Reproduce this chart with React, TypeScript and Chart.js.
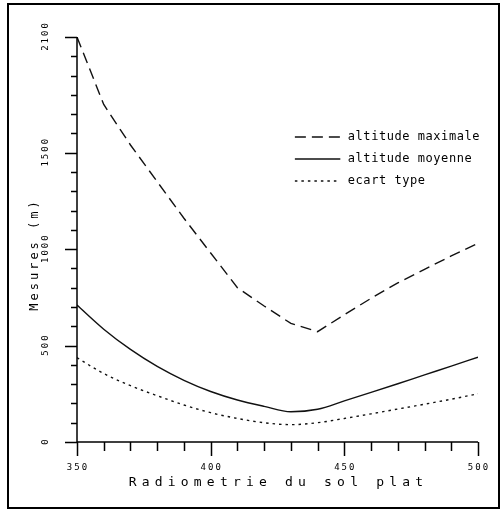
import React, { useEffect, useRef } from "react";
import { Chart, registerables } from "chart.js";

Chart.register(...registerables);

// ---- data ----
const xValues = [350, 360, 370, 380, 390, 400, 410, 420, 430, 440, 450, 460, 470, 480, 490, 500];
const altitudeMaximale = [2100, 1750, 1540, 1350, 1160, 980, 800, 705, 615, 572, 660, 745, 825, 895, 965, 1030];
const altitudeMoyenne = [710, 585, 480, 392, 320, 262, 218, 185, 157, 170, 213, 257, 302, 348, 393, 440];
const ecartType = [437, 355, 292, 240, 192, 152, 122, 100, 90, 100, 122, 146, 171, 196, 222, 250];
const seriesLabels = ["altitude maximale", "altitude moyenne", "ecart type"];

const xTickValues = [350, 360, 370, 380, 390, 400, 410, 420, 430, 440, 450, 460, 470, 480, 490, 500];
const xMajorTicks = [350, 400, 450, 500];
const yTickValues = [0, 100, 200, 300, 400, 500, 600, 700, 800, 900, 1000, 1100, 1200, 1300, 1400, 1500, 1600, 1700, 1800, 1900, 2000, 2100];
const yMajorTicks = [0, 500, 1000, 1500, 2100];
const xTitle = "Radiometrie du sol plat";
const yTitle = "Mesures (m)";

const INK = "#000";

const retroPlugin = {
  id: "retroAxes",
  afterDatasetsDraw(chart: any) {
    const ctx: CanvasRenderingContext2D = chart.ctx;
    const xs = chart.scales.x;
    const ys = chart.scales.y;
    const x0 = xs.getPixelForValue(xTickValues[0]);
    const x1 = xs.getPixelForValue(xTickValues[xTickValues.length - 1]);
    const y0 = ys.getPixelForValue(yTickValues[0]);
    const yTop = ys.getPixelForValue(yTickValues[yTickValues.length - 1]);
    ctx.save();
    ctx.strokeStyle = INK;
    ctx.fillStyle = INK;
    ctx.lineWidth = 1.5;
    ctx.lineCap = "butt";
    ctx.beginPath();
    ctx.moveTo(x0, yTop);
    ctx.lineTo(x0, y0);
    ctx.lineTo(x1, y0);
    for (const v of yTickValues) {
      const py = Math.round(ys.getPixelForValue(v)) + 0.5;
      const len = yMajorTicks.includes(v) ? 12 : 6;
      ctx.moveTo(x0 - len, py);
      ctx.lineTo(x0, py);
    }
    for (const v of xTickValues) {
      const px = Math.round(xs.getPixelForValue(v)) + 0.5;
      const len = xMajorTicks.includes(v) ? 14 : 9;
      ctx.moveTo(px, y0);
      ctx.lineTo(px, y0 + len);
    }
    ctx.stroke();

    // tick labels
    ctx.font = '9px "DejaVu Sans Mono"';
    (ctx as any).letterSpacing = "2px";
    ctx.textAlign = "center";
    ctx.textBaseline = "middle";
    for (const v of xMajorTicks) {
      const px = xs.getPixelForValue(v);
      ctx.fillText(String(v), px + 1, y0 + 26);
    }
    for (const v of yMajorTicks) {
      const py = ys.getPixelForValue(v);
      ctx.save();
      ctx.translate(x0 - 31, py);
      ctx.rotate(-Math.PI / 2);
      ctx.fillText(String(v), 1, 0);
      ctx.restore();
    }

    // axis titles
    ctx.font = '13px "DejaVu Sans Mono"';
    (ctx as any).letterSpacing = "5.2px";
    ctx.fillText(xTitle, (x0 + x1) / 2 + 1, y0 + 41);
    ctx.save();
    ctx.font = '12px "DejaVu Sans Mono"';
    (ctx as any).letterSpacing = "3px";
    ctx.translate(x0 - 42, (y0 + yTop) / 2 + 15);
    ctx.rotate(-Math.PI / 2);
    ctx.fillText(yTitle, 0, 0);
    ctx.restore();

    // legend
    ctx.font = '12px "DejaVu Sans Mono"';
    (ctx as any).letterSpacing = "0.55px";
    ctx.textAlign = "left";
    const lx0 = xs.getPixelForValue(431.5);
    const lx1 = xs.getPixelForValue(448.5);
    const tx = xs.getPixelForValue(451.3);
    const rows = [137, 159, 181];
    chart.data.datasets.forEach((ds: any, i: number) => {
      const ly = rows[i];
      ctx.save();
      ctx.lineWidth = 1.4;
      ctx.strokeStyle = ds.borderColor;
      ctx.setLineDash(ds.borderDash || []);
      ctx.beginPath();
      ctx.moveTo(lx0, ly);
      ctx.lineTo(lx1, ly);
      ctx.stroke();
      ctx.restore();
      ctx.fillText(ds.label, tx, ly);
    });
    ctx.restore();
  },
};

export default function App() {
  const canvasRef = useRef<HTMLCanvasElement | null>(null);

  useEffect(() => {
    if (!canvasRef.current) return;
    const chart = new Chart(canvasRef.current, {
      type: "line",
      data: {
        datasets: [
          {
            label: seriesLabels[0],
            data: xValues.map((x, i) => ({ x, y: altitudeMaximale[i] })),
            borderColor: "#111",
            borderWidth: 1.4,
            borderDash: [11, 6],
            tension: 0,
            pointRadius: 0,
            fill: false,
          },
          {
            label: seriesLabels[1],
            data: xValues.map((x, i) => ({ x, y: altitudeMoyenne[i] })),
            borderColor: "#111",
            borderWidth: 1.4,
            cubicInterpolationMode: "monotone",
            pointRadius: 0,
            fill: false,
          },
          {
            label: seriesLabels[2],
            data: xValues.map((x, i) => ({ x, y: ecartType[i] })),
            borderColor: "#111",
            borderWidth: 1.4,
            borderDash: [2.5, 4],
            cubicInterpolationMode: "monotone",
            pointRadius: 0,
            fill: false,
          },
        ],
      },
      options: {
        responsive: false,
        animation: false,
        layout: { padding: { left: 77, top: 37, right: 26, bottom: 70 } },
        scales: {
          x: { type: "linear", min: 350, max: 500, display: false },
          y: { type: "linear", min: 0, max: 2100, display: false },
        },
        plugins: { legend: { display: false }, tooltip: { enabled: false } },
        elements: { point: { radius: 0 } },
      },
      plugins: [retroPlugin],
    } as any);
    return () => chart.destroy();
  }, []);

  return (
    <div style={{ position: "absolute", left: 0, top: 0, width: 504, height: 512, background: "#fff" }}>
      <div
        style={{
          position: "absolute",
          left: 7,
          top: 3,
          width: 493,
          height: 506,
          border: "2px solid #000",
          boxSizing: "border-box",
        }}
      />
      <canvas
        ref={canvasRef}
        width={504}
        height={512}
        style={{ position: "absolute", left: 0, top: 0, width: 504, height: 512, display: "block" }}
      />
    </div>
  );
}
